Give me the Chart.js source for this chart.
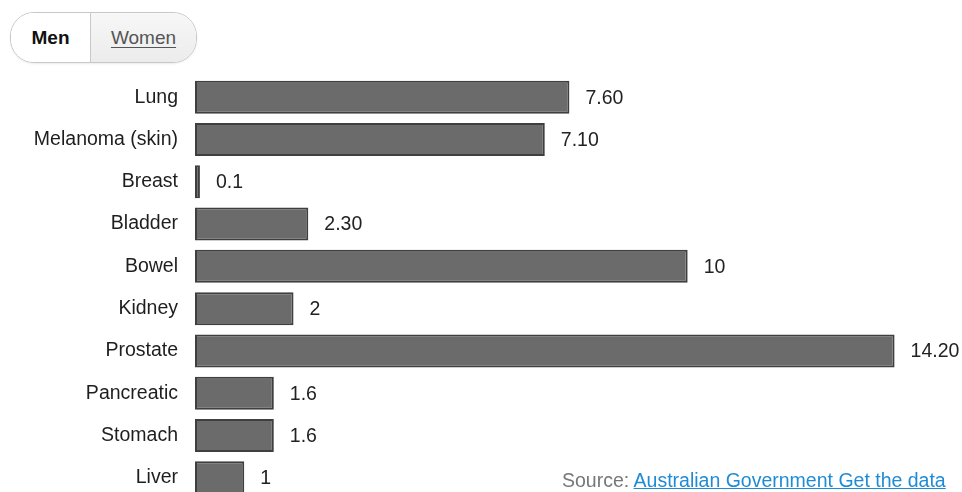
<!DOCTYPE html>
<html>
<head>
<meta charset="utf-8">
<script src="https://cdn.jsdelivr.net/npm/chart.js@4"></script>
<style>
  html, body { margin: 0; padding: 0; width: 962px; height: 492px; overflow: hidden; background: #fff; font-family: "Liberation Sans", Arial, sans-serif; }
  #wrap { position: absolute; left: 0; top: 0; width: 962px; height: 510px; }
  #toggle { position: absolute; left: 10px; top: 12px; width: 185px; height: 49px; border: 1.5px solid #c8c8c8; border-radius: 24px; overflow: hidden; display: flex; box-shadow: 0 1px 2px rgba(0,0,0,0.08); }
  #toggle .men { width: 79px; background: #fff; font-weight: bold; color: #111; font-size: 19px; display: flex; align-items: center; justify-content: center; border-right: 1.5px solid #c8c8c8; }
  #toggle .women { flex: 1; background: linear-gradient(#f7f7f7, #ececec); color: #555; font-size: 19px; display: flex; align-items: center; justify-content: center; text-decoration: underline; text-underline-offset: 3px; }
  #source { position: absolute; left: 562px; top: 469px; font-size: 19.5px; color: #777; white-space: nowrap; background: rgba(255,255,255,0.85); }
  #source a { color: #1f8bd6; text-decoration: underline; }
</style>
</head>
<body>
<div id="wrap"><canvas id="c"></canvas></div>
<div id="toggle"><div class="men">Men</div><div class="women">Women</div></div>
<div id="source">Source: <a>Australian Government Get the data</a></div>
<script>
const categories = ["Lung", "Melanoma (skin)", "Breast", "Bladder", "Bowel", "Kidney", "Prostate", "Pancreatic", "Stomach", "Liver"];
const values = [7.6, 7.1, 0.1, 2.3, 10, 2, 14.2, 1.6, 1.6, 1];
const valueLabels = ["7.60", "7.10", "0.1", "2.30", "10", "2", "14.20", "1.6", "1.6", "1"];

const valueLabelPlugin = {
  id: 'valueLabels',
  afterDatasetsDraw(chart) {
    const ctx = chart.ctx;
    const meta = chart.getDatasetMeta(0);
    ctx.save();
    ctx.font = '19.5px "Liberation Sans", Arial, sans-serif';
    ctx.fillStyle = '#222';
    ctx.textAlign = 'left';
    ctx.textBaseline = 'middle';
    meta.data.forEach((bar, i) => {
      ctx.fillText(valueLabels[i], bar.x + 16, bar.y + 1);
    });
    ctx.restore();
  }
};

new Chart(document.getElementById('c'), {
  type: 'bar',
  data: {
    labels: categories,
    datasets: [{
      data: values,
      backgroundColor: '#6b6b6b',
      borderColor: '#3f3f3f',
      borderWidth: 2,
      borderSkipped: false,
      categoryPercentage: 0.78,
      barPercentage: 1.0,
      clip: false
    }]
  },
  options: {
    indexAxis: 'y',
    responsive: true,
    maintainAspectRatio: false,
    animation: false,
    devicePixelRatio: 1,
    layout: { padding: { left: 0, right: 28, top: 76, bottom: 11 } },
    plugins: { legend: { display: false }, tooltip: { enabled: false } },
    scales: {
      x: { display: false, min: 0, max: 15 },
      y: {
        grid: { display: false, drawTicks: false, tickLength: 0 },
        border: { display: false },
        ticks: { color: '#1e1e1e', padding: 17, font: { size: 19.5, family: '"Liberation Sans", Arial, sans-serif' } },
        afterFit(scale) { scale.width = 195; scale.paddingTop = 0; scale.paddingBottom = 0; }
      }
    }
  },
  plugins: [valueLabelPlugin]
});
</script>
</body>
</html>
